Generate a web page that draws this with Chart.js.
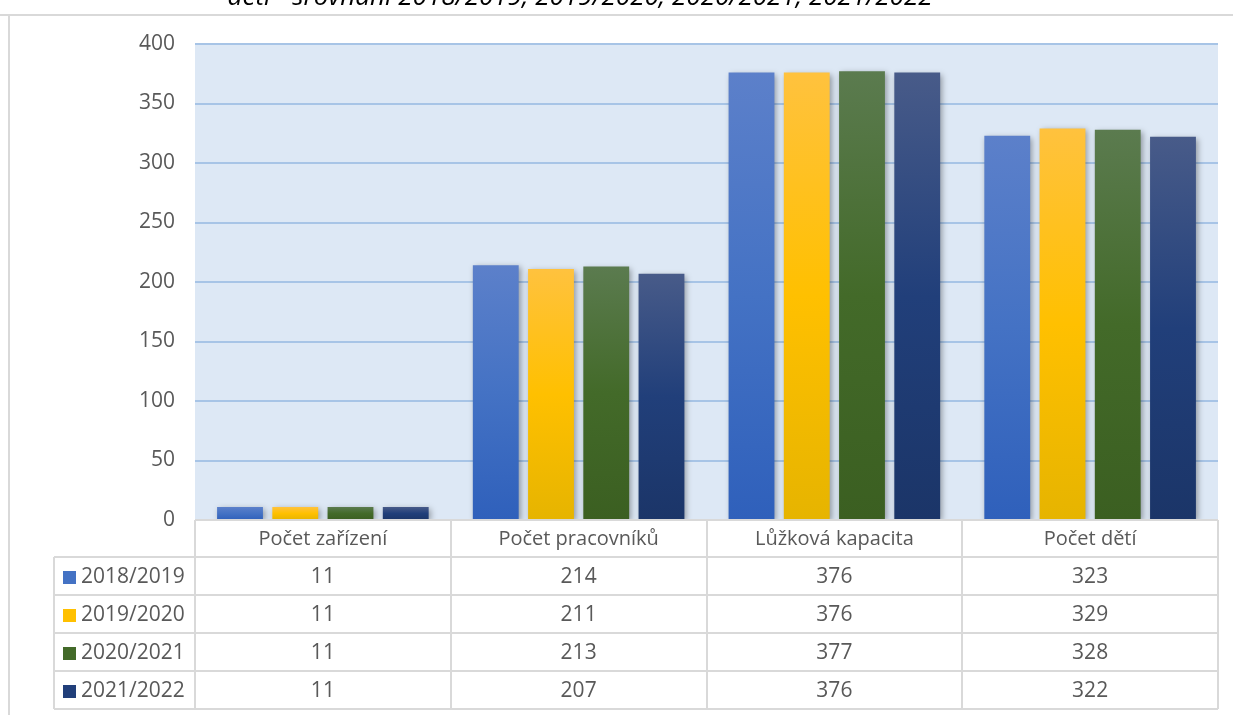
<!DOCTYPE html>
<html lang="cs">
<head>
<meta charset="utf-8">
<title>Graf</title>
<script src="https://cdn.jsdelivr.net/npm/chart.js@4.4.1/dist/chart.umd.min.js"></script>
<style>
	html, body { margin: 0; padding: 0; background: #fff; }
	#obal { width: 1233px; height: 715px; position: relative; }
</style>
</head>
<body>
<div id="obal"><canvas id="graf" width="1233" height="715"></canvas></div>
<script>
// data
const kategorie = ['Počet zařízení', 'Počet pracovníků', 'Lůžková kapacita', 'Počet dětí'];
const roky = ['2018/2019', '2019/2020', '2020/2021', '2021/2022'];
const hodnoty2018 = [11, 214, 376, 323];
const hodnoty2019 = [11, 211, 376, 329];
const hodnoty2020 = [11, 213, 377, 328];
const hodnoty2021 = [11, 207, 376, 322];
const osaY = [0, 50, 100, 150, 200, 250, 300, 350, 400];
const titulek = 'dětí - srovnání 2018/2019, 2019/2020, 2020/2021, 2021/2022';

// barvy: svetla, stredni, tmava
const barvy = [
	['#5c80ca', '#4472c4', '#2f60bb'], // modra
	['#ffc23e', '#ffc000', '#e6b400'], // zluta
	['#5b7b4f', '#436a29', '#3b5f21'], // zelena
	['#485b89', '#213f7a', '#1b3568']  // tmave modra
];

const pismo = '"Open Sans", Lato, sans-serif';
const sedaText = '#595959';
const ramecek = '#d9d9d9';

function prechod(i) {
	return function(ctx) {
		const chart = ctx.chart;
		if (!chart.chartArea || ctx.type !== 'data') return barvy[i][1];
		const y = chart.scales.y;
		const horni = y.getPixelForValue(ctx.raw);
		const dolni = y.getPixelForValue(0);
		if (dolni - horni < 1) return barvy[i][1];
		const g = chart.ctx.createLinearGradient(0, horni, 0, dolni);
		g.addColorStop(0, barvy[i][0]);
		g.addColorStop(0.5, barvy[i][1]);
		g.addColorStop(1, barvy[i][2]);
		return g;
	};
}

const serie = [hodnoty2018, hodnoty2019, hodnoty2020, hodnoty2021];

// pozadi, stin, tabulka, titulek
const doplnky = {
	id: 'doplnky',
	beforeDraw(chart) {
		const c = chart.ctx, a = chart.chartArea;
		c.save();
		c.fillStyle = '#dde8f5';
		c.fillRect(a.left, a.top, a.right - a.left, a.bottom - a.top);
		// vnejsi ramecek
		c.strokeStyle = ramecek;
		c.lineWidth = 2;
		c.beginPath();
		c.moveTo(0, 15); c.lineTo(1233, 15);
		c.moveTo(9, 15); c.lineTo(9, 715);
		c.stroke();
		// titulek (oriznuty)
		c.fillStyle = '#000';
		c.font = 'italic 26px ' + pismo;
		c.textAlign = 'center';
		c.textBaseline = 'alphabetic';
		c.fillText(titulek, 580, 5);
		c.restore();
	},
	beforeDatasetsDraw(chart) {
		const c = chart.ctx;
		c.save();
		c.shadowColor = 'rgba(0,0,0,0.35)';
		c.shadowBlur = 6;
		c.shadowOffsetX = 2;
		c.shadowOffsetY = 2;
	},
	afterDatasetsDraw(chart) {
		chart.ctx.restore();
	},
	afterDraw(chart) {
		const c = chart.ctx, a = chart.chartArea;
		const x = chart.scales.x;
		const n = kategorie.length;
		const sirka = (a.right - a.left) / n;
		const hlavicka = 37, radek = 38;
		const levy = 54;
		const horni = a.bottom;
		const spodni = horni + hlavicka + radek * roky.length;
		c.save();
		c.fillStyle = '#fff';
		c.fillRect(a.left, horni, a.right - a.left, spodni - horni);
		c.strokeStyle = ramecek;
		c.lineWidth = 2;
		c.beginPath();
		// svisle cary
		for (let i = 0; i <= n; i++) {
			const px = Math.round(a.left + i * sirka);
			c.moveTo(px, horni); c.lineTo(px, spodni);
		}
		c.moveTo(levy, horni + hlavicka); c.lineTo(levy, spodni);
		// vodorovne cary
		c.moveTo(a.left, horni); c.lineTo(a.right, horni);
		for (let r = 0; r <= roky.length; r++) {
			const py = horni + hlavicka + r * radek;
			c.moveTo(levy, py); c.lineTo(a.right, py);
		}
		c.stroke();

		c.fillStyle = sedaText;
		c.font = '20px ' + pismo;
		c.textAlign = 'center';
		c.textBaseline = 'middle';
		kategorie.forEach((k, i) => {
			c.fillText(k, x.getPixelForValue(i), horni + hlavicka / 2 + 1);
		});
		c.font = '21px ' + pismo;
		roky.forEach((rok, r) => {
			const py = horni + hlavicka + r * radek + radek / 2 + 1;
			serie[r].forEach((v, i) => {
				c.fillStyle = sedaText;
				c.textAlign = 'center';
				c.fillText(String(v), x.getPixelForValue(i), py);
			});
			c.fillStyle = barvy[r][1];
			c.fillRect(levy + 9, py - 6, 13, 13);
			c.fillStyle = sedaText;
			c.textAlign = 'left';
			c.fillText(rok, levy + 27, py);
		});
		c.restore();
	}
};

const datasety = roky.map((rok, i) => ({
	label: rok,
	data: serie[i],
	backgroundColor: prechod(i),
	borderWidth: 0,
	categoryPercentage: 0.864,
	barPercentage: 0.83
}));

new Chart(document.getElementById('graf'), {
	type: 'bar',
	data: { labels: kategorie, datasets: datasety },
	options: {
		responsive: false,
		animation: false,
		layout: { padding: { top: 44, left: 0, right: 15, bottom: 195 } },
		plugins: {
			legend: { display: false },
			title: { display: false },
			tooltip: { enabled: false }
		},
		scales: {
			x: {
				display: false
			},
			y: {
				min: 0,
				max: 400,
				afterFit(scale) { scale.width = 195; },
				afterBuildTicks(scale) { scale.ticks = osaY.map(v => ({ value: v })); },
				border: { display: false },
				grid: { color: '#a7c4e6', lineWidth: 2, drawTicks: false },
				ticks: {
					padding: 20,
					color: sedaText,
					font: { family: pismo, size: 21 }
				}
			}
		}
	},
	plugins: [doplnky]
});
</script>
</body>
</html>
